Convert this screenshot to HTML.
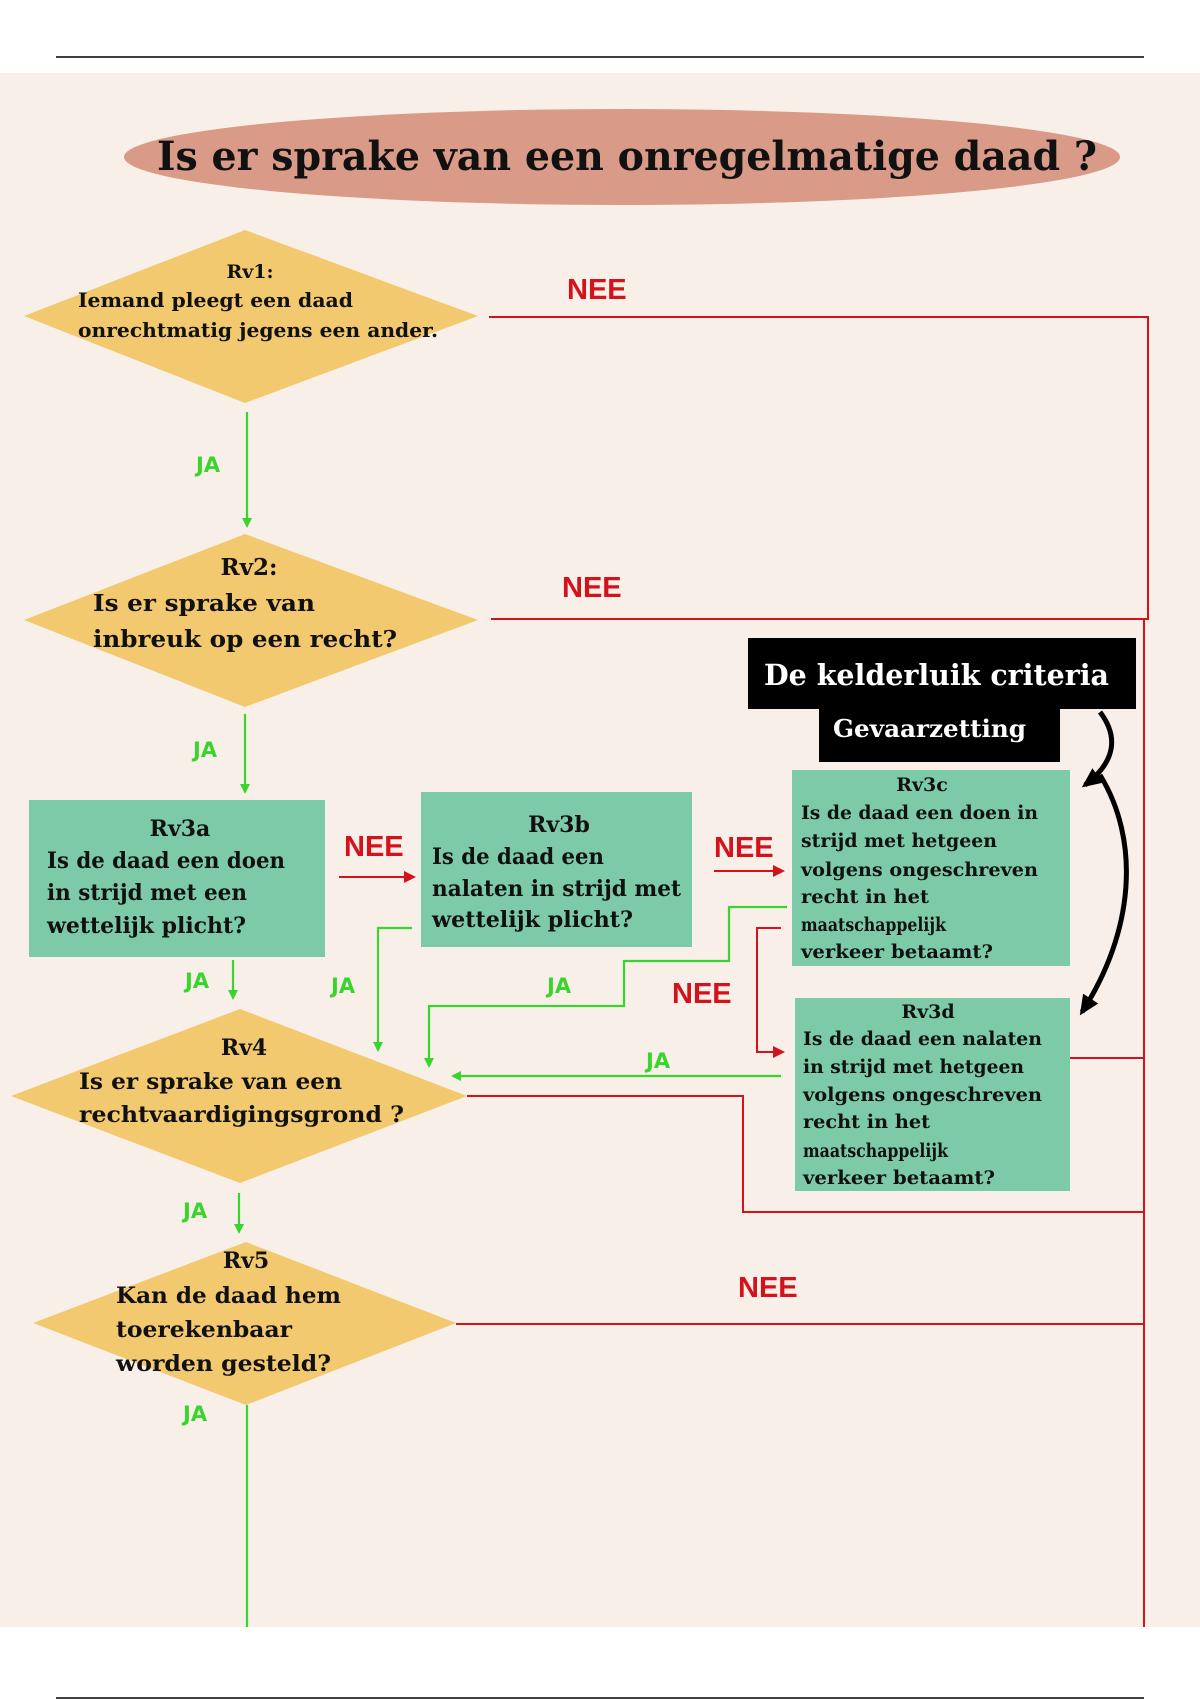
<!DOCTYPE html>
<html><head><meta charset="utf-8"><style>
html,body{margin:0;padding:0;background:#fff;}
svg{display:block;}
.s{font-family:"DejaVu Serif","Liberation Serif",serif;font-weight:bold;fill:#111;}
.nee{font-family:"Liberation Sans",sans-serif;font-weight:bold;fill:#d3121c;font-size:29px;}
.ja{font-family:"DejaVu Sans","Liberation Sans",sans-serif;font-weight:bold;fill:#3ad42e;font-size:21px;}
</style></head><body>
<svg width="1200" height="1700" viewBox="0 0 1200 1700" xmlns="http://www.w3.org/2000/svg">
<defs>
<marker id="ag" markerWidth="10" markerHeight="10" refX="8" refY="5" orient="auto" markerUnits="userSpaceOnUse"><path d="M0,0 L10,5 L0,10 z" fill="#3ad42e"/></marker>
<marker id="ar" markerWidth="12" markerHeight="12" refX="10" refY="6" orient="auto" markerUnits="userSpaceOnUse"><path d="M0,0 L12,6 L0,12 z" fill="#d3121c"/></marker>
<marker id="ab" markerWidth="22" markerHeight="22" refX="16" refY="11" orient="auto" markerUnits="userSpaceOnUse"><path d="M0,2 L20,11 L0,20 z" fill="#000"/></marker>
</defs>
<line x1="56" y1="57" x2="1144" y2="57" stroke="#000" stroke-width="1.5"/>
<line x1="56" y1="1698" x2="1144" y2="1698" stroke="#000" stroke-width="1.5"/>
<rect x="0" y="73" width="1200" height="1554" fill="#f8f0e8"/>
<ellipse cx="622" cy="157" rx="498" ry="48" fill="#d99b87"/>
<text class="s" x="157" y="170" font-size="40" textLength="940" lengthAdjust="spacingAndGlyphs">Is er sprake van een onregelmatige daad ?</text>

<!-- red lines -->
<g stroke="#d3121c" stroke-width="2" fill="none">
<polyline points="489,317 1148,317 1148,620"/>
<line x1="491" y1="619" x2="1148" y2="619"/>
<line x1="1144" y1="619" x2="1144" y2="1627"/>
<line x1="1070" y1="1058" x2="1144" y2="1058"/>
<polyline points="467,1096 743,1096 743,1212 1144,1212"/>
<line x1="456" y1="1324" x2="1144" y2="1324"/>
<line x1="339" y1="877" x2="414" y2="877" marker-end="url(#ar)"/>
<line x1="714" y1="871" x2="783" y2="871" marker-end="url(#ar)"/>
<polyline points="781,928 757,928 757,1052 783,1052" marker-end="url(#ar)"/>
</g>
<!-- green lines -->
<g stroke="#3ad42e" stroke-width="2.2" fill="none">
<line x1="247" y1="412" x2="247" y2="526" marker-end="url(#ag)"/>
<line x1="245" y1="714" x2="245" y2="792" marker-end="url(#ag)"/>
<line x1="233" y1="960" x2="233" y2="998" marker-end="url(#ag)"/>
<polyline points="412,928 378,928 378,1050" marker-end="url(#ag)"/>
<polyline points="787,907 729,907 729,961 624,961 624,1006 429,1006 429,1066" marker-end="url(#ag)"/>
<line x1="781" y1="1076" x2="453" y2="1076" marker-end="url(#ag)"/>
<line x1="239" y1="1193" x2="239" y2="1232" marker-end="url(#ag)"/>
<line x1="247" y1="1405" x2="247" y2="1627"/>
</g>

<!-- diamonds -->
<g fill="#f2c96e">
<polygon points="245,230 478,316 245,403 24,316"/>
<polygon points="245,534 478,620 245,707 24,620"/>
<polygon points="240,1009 467,1096 240,1183 11,1096"/>
<polygon points="246,1242 456,1323 246,1405 33,1323"/>
</g>
<!-- boxes -->
<g fill="#7dcaa8">
<rect x="29" y="800" width="296" height="157"/>
<rect x="421" y="792" width="271" height="155"/>
<rect x="792" y="770" width="278" height="196"/>
<rect x="795" y="998" width="275" height="193"/>
</g>
<rect x="748" y="638" width="388" height="71" fill="#000"/>
<rect x="819" y="708" width="241" height="54" fill="#000"/>
<text class="s" x="764" y="685" font-size="29" fill="#fff" style="fill:#fff" textLength="345" lengthAdjust="spacingAndGlyphs">De kelderluik criteria</text>
<text class="s" x="833" y="737" font-size="24" style="fill:#fff" textLength="193" lengthAdjust="spacingAndGlyphs">Gevaarzetting</text>
<!-- black curved arrows -->
<g stroke="#000" stroke-width="5" fill="none">
<path d="M1100,712 C1125,745 1105,770 1085,785" marker-end="url(#ab)"/>
<path d="M1100,775 C1140,840 1135,930 1082,1012" marker-end="url(#ab)"/>
</g>

<!-- Rv1 text -->
<text class="s" x="250" y="278" font-size="19" text-anchor="middle">Rv1:</text>
<text class="s" x="78" y="307" font-size="20" textLength="275" lengthAdjust="spacingAndGlyphs">Iemand pleegt een daad</text>
<text class="s" x="78" y="337" font-size="20" textLength="360" lengthAdjust="spacingAndGlyphs">onrechtmatig jegens een ander.</text>
<!-- Rv2 -->
<text class="s" x="249" y="575" font-size="23" text-anchor="middle">Rv2:</text>
<text class="s" x="93" y="611" font-size="23" textLength="222" lengthAdjust="spacingAndGlyphs">Is er sprake van</text>
<text class="s" x="93" y="647" font-size="23" textLength="304" lengthAdjust="spacingAndGlyphs">inbreuk op een recht?</text>
<!-- Rv3a -->
<text class="s" x="180" y="836" font-size="22" text-anchor="middle">Rv3a</text>
<text class="s" x="47" y="868" font-size="22" textLength="238" lengthAdjust="spacingAndGlyphs">Is de daad een doen</text>
<text class="s" x="47" y="900" font-size="22" textLength="200" lengthAdjust="spacingAndGlyphs">in strijd met een</text>
<text class="s" x="47" y="933" font-size="22" textLength="199" lengthAdjust="spacingAndGlyphs">wettelijk plicht?</text>
<!-- Rv3b -->
<text class="s" x="559" y="832" font-size="22" text-anchor="middle">Rv3b</text>
<text class="s" x="432" y="864" font-size="22" textLength="172" lengthAdjust="spacingAndGlyphs">Is de daad een</text>
<text class="s" x="432" y="896" font-size="22" textLength="249" lengthAdjust="spacingAndGlyphs">nalaten in strijd met</text>
<text class="s" x="432" y="927" font-size="22" textLength="201" lengthAdjust="spacingAndGlyphs">wettelijk plicht?</text>
<!-- Rv3c -->
<text class="s" x="922" y="791" font-size="19" text-anchor="middle">Rv3c</text>
<g font-size="19">
<text class="s" x="801" y="819" textLength="237" lengthAdjust="spacingAndGlyphs">Is de daad een doen in</text>
<text class="s" x="801" y="847" textLength="196" lengthAdjust="spacingAndGlyphs">strijd met hetgeen</text>
<text class="s" x="801" y="876" textLength="237" lengthAdjust="spacingAndGlyphs">volgens ongeschreven</text>
<text class="s" x="801" y="903" textLength="128" lengthAdjust="spacingAndGlyphs">recht in het</text>
<text class="s" x="801" y="931" textLength="145" lengthAdjust="spacingAndGlyphs">maatschappelijk</text>
<text class="s" x="801" y="958" textLength="192" lengthAdjust="spacingAndGlyphs">verkeer betaamt?</text>
</g>
<!-- Rv3d -->
<text class="s" x="928" y="1018" font-size="19" text-anchor="middle">Rv3d</text>
<g font-size="19">
<text class="s" x="803" y="1045" textLength="239" lengthAdjust="spacingAndGlyphs">Is de daad een nalaten</text>
<text class="s" x="803" y="1073" textLength="221" lengthAdjust="spacingAndGlyphs">in strijd met hetgeen</text>
<text class="s" x="803" y="1101" textLength="239" lengthAdjust="spacingAndGlyphs">volgens ongeschreven</text>
<text class="s" x="803" y="1128" textLength="127" lengthAdjust="spacingAndGlyphs">recht in het</text>
<text class="s" x="803" y="1157" textLength="145" lengthAdjust="spacingAndGlyphs">maatschappelijk</text>
<text class="s" x="803" y="1184" textLength="192" lengthAdjust="spacingAndGlyphs">verkeer betaamt?</text>
</g>
<!-- Rv4 -->
<text class="s" x="244" y="1055" font-size="22" text-anchor="middle">Rv4</text>
<text class="s" x="79" y="1089" font-size="22" textLength="263" lengthAdjust="spacingAndGlyphs">Is er sprake van een</text>
<text class="s" x="79" y="1122" font-size="22" textLength="325" lengthAdjust="spacingAndGlyphs">rechtvaardigingsgrond ?</text>
<!-- Rv5 -->
<text class="s" x="246" y="1268" font-size="22" text-anchor="middle">Rv5</text>
<text class="s" x="116" y="1303" font-size="22" textLength="225" lengthAdjust="spacingAndGlyphs">Kan de daad hem</text>
<text class="s" x="116" y="1337" font-size="22" textLength="176" lengthAdjust="spacingAndGlyphs">toerekenbaar</text>
<text class="s" x="116" y="1371" font-size="22" textLength="215" lengthAdjust="spacingAndGlyphs">worden gesteld?</text>

<!-- labels -->
<text class="nee" x="567" y="299">NEE</text>
<text class="nee" x="562" y="597">NEE</text>
<text class="nee" x="344" y="856">NEE</text>
<text class="nee" x="714" y="857">NEE</text>
<text class="nee" x="672" y="1003">NEE</text>
<text class="nee" x="738" y="1297">NEE</text>
<text class="ja" x="196" y="472">JA</text>
<text class="ja" x="193" y="757">JA</text>
<text class="ja" x="185" y="988">JA</text>
<text class="ja" x="331" y="993">JA</text>
<text class="ja" x="547" y="993">JA</text>
<text class="ja" x="646" y="1068">JA</text>
<text class="ja" x="183" y="1218">JA</text>
<text class="ja" x="183" y="1421">JA</text>
</svg>
</body></html>
